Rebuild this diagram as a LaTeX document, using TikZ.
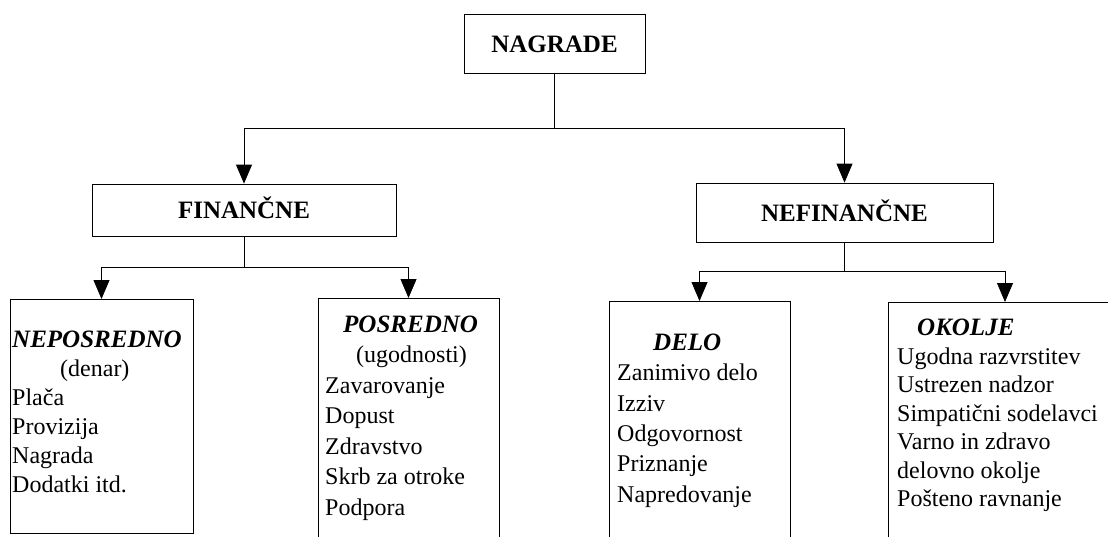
\documentclass[tikz,border=0pt]{standalone}
\usepackage{fontspec}
\setmainfont{Liberation Serif}
\usetikzlibrary{arrows.meta}
\newcommand{\boxtitle}[1]{{\fontsize{25}{29}\selectfont\bfseries\itshape #1}}
\begin{document}
\begin{tikzpicture}[x=1pt,y=-1pt,
	head/.style={draw,line width=0.8pt,inner sep=0pt,font=\fontsize{25}{30}\selectfont\bfseries,text height=17pt,text depth=0pt},
	group/.style={draw,line width=0.8pt,anchor=north,inner sep=0pt},
	list/.style={anchor=north west,inner sep=0pt,align=left,font=\fontsize{24}{#1}\selectfont},
	conn/.style={line width=0.8pt,-{Triangle[length=19pt,width=16pt]}}]
			\path[use as bounding box,fill=white] (0,0) rectangle (1108,536);

			\node (nagrade) [head,minimum width=181pt,minimum height=59pt] at (554.5,43.5) {NAGRADE};
			\node (financne) [head,minimum width=304pt,minimum height=52pt] at (244,210) {FINANČNE};
			\node (nefinancne) [head,minimum width=297pt,minimum height=59pt] at (844.5,212.5) {NEFINANČNE};

			\node (neposredno) [group,minimum width=183pt,minimum height=234pt] at (101.5,299) {};
			\node (posredno) [group,minimum width=181pt,minimum height=250pt] at (408.5,298) {};
			\node (delo) [group,minimum width=181pt,minimum height=250pt] at (699.5,301) {};
			\node (okolje) [group,minimum width=234pt,minimum height=250pt] at (1005,302) {};

			\node (neposrednolist) [list=29] at (12,330.5) {\boxtitle{NEPOSREDNO}\\ \hspace*{48pt}(denar)\\ Plača\\ Provizija\\ Nagrada\\ Dodatki itd.};
			\node (posrednolist) [list=30.5] at (325,315.5) {\hspace*{18pt}\boxtitle{POSREDNO}\\ \hspace*{31pt}(ugodnosti)\\ Zavarovanje\\ Dopust\\ Zdravstvo\\ Skrb za otroke\\ Podpora};
			\node (delolist) [list=30.4] at (617,333.5) {\hspace*{36pt}\boxtitle{DELO}\\ Zanimivo delo\\ Izziv\\ Odgovornost\\ Priznanje\\ Napredovanje};
			\node (okoljelist) [list=28.5] at (897,319) {\hspace*{20pt}\boxtitle{OKOLJE}\\ Ugodna razvrstitev\\ Ustrezen nadzor\\ Simpatični sodelavci\\ Varno in zdravo\\ delovno okolje\\ Pošteno ravnanje};

			\coordinate (forktop) at (554.5,128);
			\coordinate (forkfin) at (244,267);
			\coordinate (forknefin) at (844.5,271);

			\draw [conn] (nagrade) -- (forktop) -| (financne);
			\draw [conn] (forktop) -| (nefinancne);
			\draw [conn] (financne) -- (forkfin) -| (neposredno);
			\draw [conn] (forkfin) -| (posredno);
			\draw [conn] (nefinancne) -- (forknefin) -| (delo);
			\draw [conn] (forknefin) -| (okolje);

		\end{tikzpicture}
\end{document}
